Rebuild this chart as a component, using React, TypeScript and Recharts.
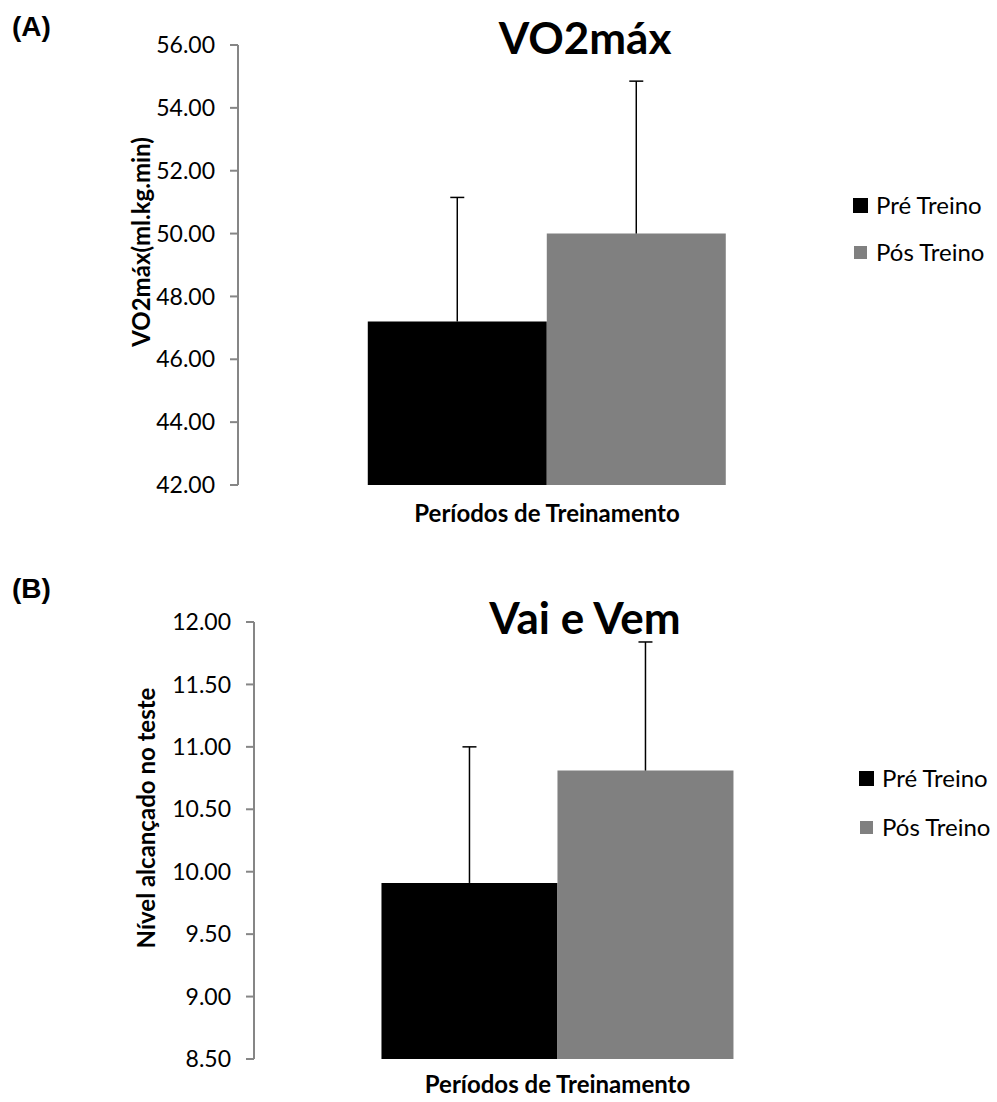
import { BarChart, Bar, XAxis, YAxis } from 'recharts';

// values
const categories = ['Períodos de Treinamento'];
const seriesNames = ['Pré Treino', 'Pós Treino'];
const seriesColors = ['#000000', '#808080'];

const vo2Pre = [47.2];
const vo2PreSd = [3.95];
const vo2Pos = [50.0];
const vo2PosSd = [4.85];
const vo2Ticks = [42, 44, 46, 48, 50, 52, 54, 56];

const vvPre = [9.91];
const vvPreSd = [1.09];
const vvPos = [10.81];
const vvPosSd = [1.03];
const vvTicks = [8.5, 9, 9.5, 10, 10.5, 11, 11.5, 12];

const FONT = 'Lato, "Open Sans", sans-serif';

const buildRows = (pre: number[], preSd: number[], pos: number[], posSd: number[]) =>
  categories.map((name, i) => ({
    name,
    pre: pre[i],
    preErr: preSd[i],
    pos: pos[i],
    posErr: posSd[i],
  }));

// the error segment is stacked on top of the bar, drawn only as a whisker
const ErrorWhisker = (props: any) => {
  const { x, y, width, height } = props;
  if (height == null || width == null) return null;
  const cx = x + width / 2;
  return (
    <g>
      <line x1={cx} x2={cx} y1={y + height} y2={y} stroke="#000" strokeWidth={1.5} />
      <line x1={cx - 7} x2={cx + 7} y1={y} y2={y} stroke="#000" strokeWidth={1.5} />
    </g>
  );
};

interface PanelProps {
  rows: any[];
  ticks: number[];
  title: string;
  tag: string;
  yLabel: string;
  yLabelPos: { x: number; y: number };
  height: number;
  marginTop: number;
  marginRight: number;
  axisWidth: number;
  xAxisHeight: number;
  marginBottom: number;
  xLabelDy: number;
  titleTop: number;
  tagTop: number;
  legendLeft: number;
  legendTop: number;
  legendGap: number;
}

function Panel(p: PanelProps) {
  const tickStyle = { fontSize: 23, fill: '#000', fontFamily: FONT };
  return (
    <div style={{ position: 'relative', width: 997, height: p.height }}>
      <div
        style={{
          position: 'absolute',
          left: 12,
          top: p.tagTop,
          fontFamily: '"Liberation Sans", Arial, sans-serif',
          fontWeight: 'bold',
          fontSize: 28,
          lineHeight: '32px',
        }}
      >
        {p.tag}
      </div>
      <div
        style={{
          position: 'absolute',
          left: 385,
          width: 400,
          textAlign: 'center',
          top: p.titleTop,
          fontFamily: FONT,
          fontWeight: 'bold',
          fontSize: 44,
          lineHeight: '50px',
        }}
      >
        {p.title}
      </div>
      <BarChart
        width={997}
        height={p.height}
        data={p.rows}
        margin={{ top: p.marginTop, right: p.marginRight, left: 0, bottom: p.marginBottom }}
        barGap={0}
        barCategoryGap="21%"
      >
        <XAxis
          dataKey="name"
          tick={false}
          axisLine={false}
          tickLine={false}
          height={p.xAxisHeight}
          label={{
            value: categories[0],
            position: 'center',
            dy: p.xLabelDy,
            style: { fontFamily: FONT, fontWeight: 'bold', fontSize: 24, fill: '#000' },
          }}
        />
        <YAxis
          width={p.axisWidth}
          domain={[p.ticks[0], p.ticks[p.ticks.length - 1]]}
          ticks={p.ticks}
          allowDataOverflow
          interval={0}
          tickFormatter={(v: number) => v.toFixed(2)}
          tick={tickStyle}
          tickSize={8}
          tickMargin={15}
          axisLine={{ stroke: '#868686', strokeWidth: 2 }}
          tickLine={{ stroke: '#868686', strokeWidth: 2 }}
          label={{
            content: () => (
              <text
                x={p.yLabelPos.x}
                y={p.yLabelPos.y}
                transform={`rotate(-90 ${p.yLabelPos.x} ${p.yLabelPos.y})`}
                textAnchor="middle"
                dominantBaseline="central"
                style={{ fontFamily: FONT, fontWeight: 'bold', fontSize: 24, fill: '#000' }}
              >
                {p.yLabel}
              </text>
            ),
          }}
        />
        <Bar dataKey="pre" stackId="pre" fill={seriesColors[0]} isAnimationActive={false} />
        <Bar dataKey="preErr" stackId="pre" legendType="none" shape={ErrorWhisker} isAnimationActive={false} />
        <Bar dataKey="pos" stackId="pos" fill={seriesColors[1]} isAnimationActive={false} />
        <Bar dataKey="posErr" stackId="pos" legendType="none" shape={ErrorWhisker} isAnimationActive={false} />
      </BarChart>
      <div style={{ position: 'absolute', left: p.legendLeft, top: p.legendTop, fontFamily: FONT, fontSize: 24 }}>
        {seriesNames.map((name, i) => (
          <div key={name} style={{ display: 'flex', alignItems: 'center', height: 28, marginBottom: p.legendGap }}>
            <span
              style={{
                display: 'inline-block',
                width: i === 0 ? 15 : 13,
                height: i === 0 ? 15 : 13,
                marginLeft: i === 0 ? 0 : 1,
                marginRight: i === 0 ? 8 : 9,
                background: seriesColors[i],
              }}
            />
            <span style={{ lineHeight: '28px' }}>{name}</span>
          </div>
        ))}
      </div>
    </div>
  );
}

export default function App() {
  return (
    <div style={{ position: 'absolute', left: 0, top: 0, width: 997, height: 1102, background: '#fff' }}>
      <Panel
        rows={buildRows(vo2Pre, vo2PreSd, vo2Pos, vo2PosSd)}
        ticks={vo2Ticks}
        title="VO2máx"
        tag="(A)"
        yLabel="VO2máx(ml.kg.min)"
        yLabelPos={{ x: 140, y: 242 }}
        height={560}
        marginTop={45}
        marginRight={141}
        axisWidth={238}
        xAxisHeight={40}
        marginBottom={35}
        xLabelDy={8}
        titleTop={12}
        tagTop={11}
        legendLeft={853}
        legendTop={191}
        legendGap={19}
      />
      <div style={{ position: 'absolute', left: 0, top: 560 }}>
        <Panel
          rows={buildRows(vvPre, vvPreSd, vvPos, vvPosSd)}
          ticks={vvTicks}
          title="Vai e Vem"
          tag="(B)"
          yLabel="Nível alcançado no teste"
          yLabelPos={{ x: 145, y: 258 }}
          height={542}
          marginTop={62}
          marginRight={136}
          axisWidth={254}
          xAxisHeight={30}
          marginBottom={13}
          xLabelDy={10}
          titleTop={32}
          tagTop={13}
          legendLeft={859}
          legendTop={204}
          legendGap={21}
        />
      </div>
    </div>
  );
}
